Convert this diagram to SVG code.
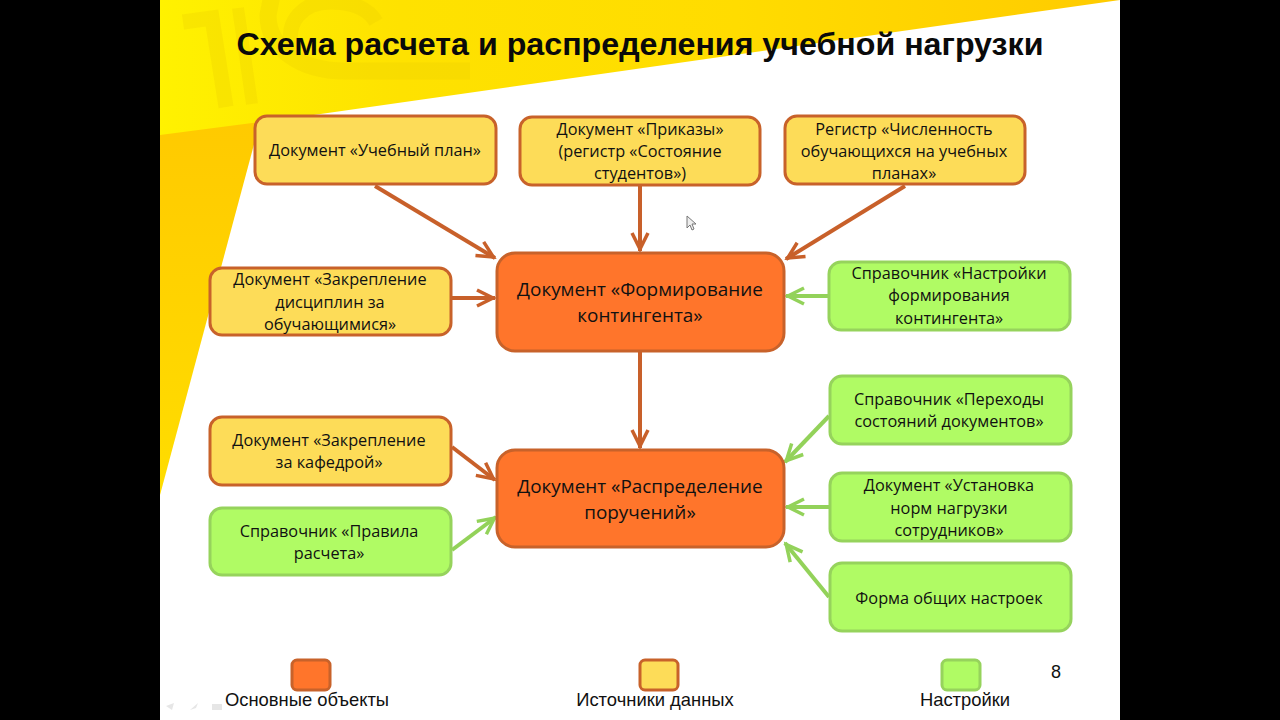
<svg xmlns="http://www.w3.org/2000/svg" width="1280" height="720" viewBox="0 0 1280 720">
<style>
.t{font-family:"Open Sans","Noto Sans","DejaVu Sans",sans-serif;font-size:16.3px;fill:#111;text-anchor:middle}
.tm{font-family:"Open Sans","Noto Sans","DejaVu Sans",sans-serif;font-size:18.9px;fill:#111;text-anchor:middle}
.l{font-family:"Liberation Sans",Arial,sans-serif;font-size:18.4px;fill:#111;text-anchor:middle}
.y{fill:#fddc58;stroke:#c8622a;stroke-width:3}
.g{fill:#b0fb64;stroke:#96d35c;stroke-width:3}
.o{fill:#ff752b;stroke:#c8622a;stroke-width:3}
.co{fill:none;stroke:#c8602a;stroke-width:4;marker-end:url(#ao)}
.cg{fill:none;stroke:#93d25a;stroke-width:4;marker-end:url(#ag)}
.wm{fill:none;stroke:#eccf00;stroke-opacity:.32}
</style>
<defs>
<linearGradient id="band" x1="0" y1="0" x2="1" y2="0">
<stop offset="0" stop-color="#fff200"/><stop offset=".25" stop-color="#fee200"/><stop offset=".6" stop-color="#ffdc00"/><stop offset="1" stop-color="#ffcb00"/>
</linearGradient>
<linearGradient id="wedge" x1="0" y1="0" x2="0" y2="1">
<stop offset="0" stop-color="#ffca00"/><stop offset="1" stop-color="#ffdd00"/>
</linearGradient>
<marker id="ao" markerUnits="userSpaceOnUse" markerWidth="24" markerHeight="24" refX="20" refY="12" orient="auto" viewBox="0 0 24 24">
<path d="M2 4L18 12L2 20" fill="none" stroke="#c8602a" stroke-width="3.5"/>
</marker>
<marker id="ag" markerUnits="userSpaceOnUse" markerWidth="24" markerHeight="24" refX="20" refY="12" orient="auto" viewBox="0 0 24 24">
<path d="M2 4L18 12L2 20" fill="none" stroke="#93d25a" stroke-width="3.5"/>
</marker>
</defs>
<rect width="1280" height="720" fill="#000"/>
<rect x="160" width="960" height="720" fill="#fff"/>
<polygon points="160,0 1120,0 160,137" fill="url(#band)"/>
<polygon points="160,135 260,122 160,495" fill="url(#wedge)"/>
<g class="wm">
<path d="M183 22L212 18L226 107" stroke-width="15"/>
<path d="M238 8L252 104" stroke-width="12"/>
<path d="M470 71H345C300 71 268 48 268 15L272 -5" stroke-width="17"/>
<path d="M292 50C284 20 305 2 330 2C352 2 368 8 376 22" stroke-width="15"/>
</g>
<text x="640" y="55" font-family="'Liberation Sans',Arial,sans-serif" font-size="32.2px" font-weight="bold" fill="#0a0a0a" text-anchor="middle">Схема расчета и распределения учебной нагрузки</text>
<g id="connectors">
<line class="co" x1="375" y1="186" x2="495" y2="258"/>
<line class="co" x1="640" y1="186" x2="640" y2="251"/>
<line class="co" x1="905" y1="186" x2="786" y2="259"/>
<line class="co" x1="452" y1="298" x2="495" y2="298"/>
<line class="cg" x1="828" y1="296" x2="786" y2="296"/>
<line class="co" x1="640" y1="352" x2="640" y2="448"/>
<line class="co" x1="452" y1="447" x2="495" y2="480"/>
<line class="cg" x1="452" y1="550" x2="496" y2="517"/>
<line class="cg" x1="829" y1="416" x2="785" y2="462"/>
<line class="cg" x1="829" y1="507" x2="786" y2="507"/>
<line class="cg" x1="829" y1="597" x2="785" y2="543"/>
</g>
<g id="n1"><rect class="y" x="255" y="116" width="241" height="68" rx="12"/><text class="t" x="375" y="156">Документ «Учебный план»</text></g>
<g id="n2"><rect class="y" x="520" y="117" width="240" height="68" rx="12"/><text class="t" x="640" y="135">Документ «Приказы»</text><text class="t" x="640" y="157">(регистр «Состояние</text><text class="t" x="640" y="179">студентов»)</text></g>
<g id="n3"><rect class="y" x="785" y="116" width="240" height="68" rx="12"/><text class="t" x="904" y="134.500">Регистр «Численность</text><text class="t" x="904" y="157">обучающихся на учебных</text><text class="t" x="904" y="179">планах»</text></g>
<g id="n4"><rect class="y" x="210" y="268" width="241" height="67" rx="12"/><text class="t" x="330" y="285">Документ «Закрепление</text><text class="t" x="330" y="307.500">дисциплин за</text><text class="t" x="330" y="330">обучающимися»</text></g>
<g id="n5"><rect class="o" x="497" y="253" width="287" height="98" rx="18"/><text class="tm" x="640" y="296">Документ «Формирование</text><text class="tm" x="640" y="322">контингента»</text></g>
<g id="n6"><rect class="g" x="829" y="262" width="241" height="68" rx="12"/><text class="t" x="949" y="279">Справочник «Настройки</text><text class="t" x="949" y="301">формирования</text><text class="t" x="949" y="324">контингента»</text></g>
<g id="n7"><rect class="g" x="830" y="376" width="241" height="68" rx="12"/><text class="t" x="949" y="405">Справочник «Переходы</text><text class="t" x="949" y="427">состояний документов»</text></g>
<g id="n8"><rect class="y" x="210" y="417" width="241" height="68" rx="12"/><text class="t" x="329" y="446">Документ «Закрепление</text><text class="t" x="329" y="468">за кафедрой»</text></g>
<g id="n9"><rect class="g" x="210" y="508" width="241" height="67" rx="12"/><text class="t" x="329" y="537">Справочник «Правила</text><text class="t" x="329" y="559">расчета»</text></g>
<g id="n10"><rect class="o" x="497" y="450" width="287" height="97" rx="18"/><text class="tm" x="640" y="493">Документ «Распределение</text><text class="tm" x="640" y="519">поручений»</text></g>
<g id="n11"><rect class="g" x="830" y="473" width="241" height="68" rx="12"/><text class="t" x="949" y="491">Документ «Установка</text><text class="t" x="949" y="514">норм нагрузки</text><text class="t" x="949" y="536">сотрудников»</text></g>
<g id="n12"><rect class="g" x="830" y="563" width="241" height="68" rx="12"/><text class="t" x="949" y="604">Форма общих настроек</text></g>
<g id="legend1"><rect class="o" x="292" y="660" width="38" height="30" rx="5"/><text class="l" x="307" y="706">Основные  объекты</text></g>
<g id="legend2"><rect class="y" x="640" y="660" width="38" height="30" rx="5"/><text class="l" x="655" y="706">Источники данных</text></g>
<g id="legend3"><rect class="g" x="942" y="660" width="38" height="30" rx="5"/><text class="l" x="965" y="706">Настройки</text></g>
<text x="1056" y="678" font-family="'Liberation Sans',Arial,sans-serif" font-size="18px" fill="#111" text-anchor="middle">8</text>
<path d="M687 216V228L690 225L692 230L694 229L692 224H696Z" fill="#eee" stroke="#777" stroke-width="1"/>
<g fill="#e6e6e6"><path d="M166 706L174 703L172 710Z"/><path d="M190 710L198 703L196 708Z"/><rect x="212" y="704" width="10" height="6"/></g>
</svg>
